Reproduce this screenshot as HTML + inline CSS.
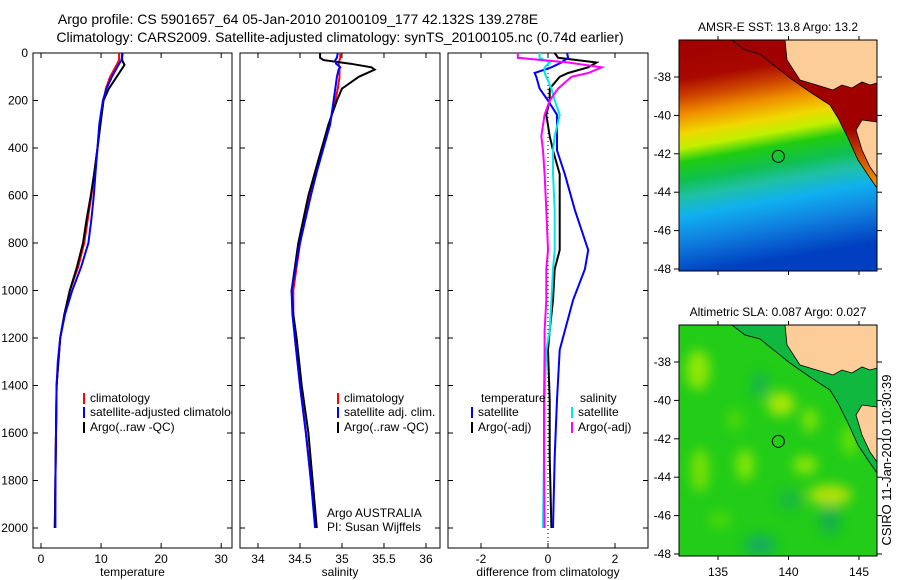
<!DOCTYPE html>
<html><head><meta charset="utf-8"><style>
html,body{margin:0;padding:0;background:#fff;width:900px;height:580px;overflow:hidden}
svg{display:block;font-family:"Liberation Sans",sans-serif}
</style></head><body>
<svg id="fig" width="900" height="580" viewBox="0 0 900 580">
<defs>
<clipPath id="c1"><rect x="33" y="53" width="199" height="495"/></clipPath>
<clipPath id="c2"><rect x="240" y="53" width="200" height="495"/></clipPath>
<clipPath id="c3"><rect x="448" y="53" width="200" height="495"/></clipPath>
<clipPath id="cm1"><rect x="679" y="40" width="198" height="231"/></clipPath>
<clipPath id="cm2"><rect x="679" y="325" width="198" height="231"/></clipPath>
<linearGradient id="sst" x1="0" y1="0" x2="0.15" y2="1">
<stop offset="0" stop-color="#a00000"/><stop offset="0.17" stop-color="#a80800"/>
<stop offset="0.25" stop-color="#d04800"/><stop offset="0.32" stop-color="#f09000"/>
<stop offset="0.40" stop-color="#f0d800"/><stop offset="0.46" stop-color="#c0f000"/>
<stop offset="0.52" stop-color="#20cc10"/><stop offset="0.60" stop-color="#10c050"/>
<stop offset="0.67" stop-color="#20c0a8"/><stop offset="0.75" stop-color="#10b0f0"/>
<stop offset="0.86" stop-color="#1080e0"/><stop offset="1" stop-color="#0040c0"/>
</linearGradient>
<linearGradient id="shelf" x1="0" y1="0" x2="0" y2="1">
<stop offset="0" stop-color="#a00000"/><stop offset="0.6" stop-color="#a00000"/>
<stop offset="0.8" stop-color="#d05000"/><stop offset="1" stop-color="#f0a000"/>
</linearGradient>
<filter id="blur"><feGaussianBlur stdDeviation="6"/></filter>
</defs>
<g font-size="14" text-anchor="middle">
<text x="298" y="24">Argo profile: CS 5901657_64 05-Jan-2010 20100109_177 42.132S 139.278E</text>
<text x="340" y="42">Climatology: CARS2009. Satellite-adjusted climatology: synTS_20100105.nc (0.74d earlier)</text>
</g>
<g id="panels"></g>
<g id="maps"></g>
<text transform="translate(891,460) rotate(-90)" font-size="13" text-anchor="middle">CSIRO 11-Jan-2010 10:30:39</text>
</svg>
<script>
// depth levels (dbar)
const depthT = [0,30,50,100,150,200,300,400,500,600,700,800,900,1000,1100,1200,1300,1400,1600,1800,2000];
const tempClim = [13,13,12.6,11.5,10.8,10.4,9.8,9.4,8.9,8.4,7.8,7.2,6.2,4.8,3.9,3.2,2.9,2.6,2.5,2.4,2.3];
const tempSat  = [13.6,13.4,12.9,11.8,10.9,10.3,9.7,9.4,9.1,8.8,8.4,7.9,6.7,5.2,4,3.2,2.8,2.6,2.5,2.4,2.4];
const tempArgo = [13.5,13.5,13.9,12.6,11.3,10.4,9.9,9.4,8.9,8.3,7.6,7.0,6.0,4.8,3.9,3.2,2.9,2.6,2.5,2.4,2.3];
const depthS = [0,20,30,45,60,70,100,150,200,300,400,500,600,800,1000,1100,1200,1400,1600,1800,2000];
const salClim = [34.98,34.98,34.97,34.96,34.97,34.97,34.97,34.95,34.92,34.85,34.76,34.68,34.62,34.5,34.42,34.42,34.44,34.5,34.57,34.63,34.69];
const salSat  = [34.95,34.94,34.92,34.93,34.98,34.96,34.94,34.92,34.9,34.86,34.78,34.7,34.63,34.5,34.4,34.41,34.44,34.5,34.57,34.63,34.68];
const salArgo = [34.74,34.74,34.78,35.1,35.35,35.39,35.2,35.0,34.94,34.84,34.76,34.68,34.6,34.48,34.4,34.42,34.46,34.52,34.6,34.65,34.7];
const depthD = [0,20,40,60,84,100,150,200,260,350,410,510,660,830,910,1040,1170,1250,1460,1700,2000];
const dTempSat  = [0.57,0.6,0.4,0.1,-0.4,-0.35,-0.25,0,0.27,0.27,0.27,0.5,0.8,1.2,1.1,0.75,0.5,0.35,0.27,0.2,0.15];
const dTempArgo = [0.2,0.3,1.45,1.2,0.6,0.35,0.05,0.05,-0.05,0.05,0.15,0.35,0.35,0.35,0.2,0.15,0.05,0.0,0.05,0.05,0.1];
const dSalSat   = [-0.25,-0.25,0.05,-0.1,-0.1,-0.05,0.1,0.2,0.35,0.2,0.15,0.15,0.2,0.2,0.15,0.1,0.05,-0.05,-0.1,-0.12,-0.15];
const dSalArgo  = [-0.9,-0.9,0.6,1.6,1.2,0.7,0.3,0.05,-0.1,-0.2,-0.15,-0.1,-0.05,0,-0.05,-0.05,-0.1,-0.1,-0.12,-0.12,-0.1];
const depthTicks = [0,200,400,600,800,1000,1200,1400,1600,1800,2000];
const tempTicks = [0,10,20,30];
const salTicks = [34,34.5,35,35.5,36];
const diffTicks = [-2,0,2];
const latTicks = [-38,-40,-42,-44,-46,-48];
const lonTicks = [135,140,145];

const NS='http://www.w3.org/2000/svg';
function mk(tag,attrs,parent){const e=document.createElementNS(NS,tag);for(const k in attrs)e.setAttribute(k,attrs[k]);parent.appendChild(e);return e;}
const yD = d => 53 + d*0.2375;
const P = document.getElementById('panels');

const panels = [
 {x0:33,x1:232,lo:-1.33,hi:31.8,ticks:tempTicks,lab:'temperature',clip:'c1',yl:true,
  series:[[depthT,tempClim,'#ff0000'],[depthT,tempArgo,'#000'],[depthT,tempSat,'#0000ff']],dn:'temperature'},
 {x0:240,x1:440,lo:33.786,hi:36.167,ticks:salTicks,lab:'salinity',clip:'c2',
  series:[[depthS,salClim,'#ff0000'],[depthS,salArgo,'#000'],[depthS,salSat,'#0000ff']],dn:'salinity'},
 {x0:448,x1:648,lo:-2.985,hi:2.985,ticks:diffTicks,lab:'difference from climatology',clip:'c3',
  series:[[depthD,dTempArgo,'#000'],[depthD,dTempSat,'#0000ff'],[depthD,dSalSat,'#00e8e8'],[depthD,dSalArgo,'#ff00ff']],dn:'difference'}
];
panels.forEach((p,pi)=>{
  const g=mk('g',{},P);
  
  
  const xs = v => p.x0 + (v-p.lo)/(p.hi-p.lo)*(p.x1-p.x0);
  mk('rect',{x:p.x0,y:53,width:p.x1-p.x0,height:495,fill:'#fff',stroke:'#000','stroke-width':1},g);
  p.ticks.forEach(t=>{const x=xs(t);
    mk('line',{x1:x,x2:x,y1:548,y2:543,stroke:'#000'},g);
    mk('line',{x1:x,x2:x,y1:53,y2:58,stroke:'#000'},g);
    const tx=mk('text',{x:x,y:563,'font-size':12,'text-anchor':'middle'},g);tx.textContent=t;});
  depthTicks.forEach(d=>{const y=yD(d);
    mk('line',{x1:p.x0,x2:p.x0+5,y1:y,y2:y,stroke:'#000'},g);
    mk('line',{x1:p.x1,x2:p.x1-5,y1:y,y2:y,stroke:'#000'},g);
    if(p.yl){const tx=mk('text',{x:28,y:y+4,'font-size':12,'text-anchor':'end'},g);tx.textContent=d;}});
  const xl=mk('text',{x:(p.x0+p.x1)/2,y:576,'font-size':12,'text-anchor':'middle'},g);xl.textContent=p.lab;
  
  
  const cg=mk('g',{'clip-path':'url(#'+p.clip+')'},g);
  if(pi===2){mk('line',{x1:xs(0),x2:xs(0),y1:53,y2:548,stroke:'#000','stroke-dasharray':'1,3'},cg);}
  p.series.forEach(s=>{
    const pts=s[0].map((d,i)=>xs(s[1][i]).toFixed(1)+','+yD(d).toFixed(1)).join(' ');
    const l=mk('polyline',{points:pts,fill:'none',stroke:s[2],'stroke-width':2},cg);
    
    
  });
  function leg(x,y,col,txt,clip){const lg=mk('g',clip?{'clip-path':'url(#'+clip+')'}:{},g);
    
    
    mk('line',{x1:x,x2:x,y1:y-9,y2:y+2,stroke:col,'stroke-width':2},lg);
    const t=mk('text',{x:x+6,y:y,'font-size':12},lg);t.textContent=txt;}
  if(pi===0){leg(84,402,'#ff0000','climatology','c1');leg(84,416,'#0000ff','satellite-adjusted climatology','c1');leg(84,431,'#000','Argo(..raw -QC)','c1');}
  if(pi===1){leg(338,402,'#ff0000','climatology');leg(338,416,'#0000ff','satellite adj. clim.');leg(338,431,'#000','Argo(..raw -QC)');
    const a=mk('text',{x:327,y:517,'font-size':12},g);a.textContent='Argo AUSTRALIA';
    const b=mk('text',{x:327,y:531,'font-size':12},g);b.textContent='PI: Susan Wijffels';}
  if(pi===2){const t1=mk('text',{x:481,y:402,'font-size':12},g);t1.textContent='temperature';
    const t2=mk('text',{x:580,y:402,'font-size':12},g);t2.textContent='salinity';
    leg(472,416,'#0000ff','satellite');leg(472,431,'#000','Argo(-adj)');
    leg(572,416,'#00e8e8','satellite');leg(572,431,'#ff00ff','Argo(-adj)');}
});

// maps
const M=document.getElementById('maps');
const maps=[{top:40,clip:'cm1',title:'AMSR-E SST: 13.8 Argo: 13.2',dn:'sst-map'},{top:325,clip:'cm2',title:'Altimetric SLA: 0.087 Argo: 0.027',dn:'sla-map'}];
const lonX = v => 718 + (v-135)*14.1;
maps.forEach((m,mi)=>{
  const g=mk('g',{},M);
  
  
  const latY = v => m.top + 37 + (-38-v)*19.2;
  const cg=mk('g',{'clip-path':'url(#'+m.clip+')'},g);
  const o=m.top-40;
  const shelf=`M732 ${40+o} L745 ${50+o} L760 ${54+o} L790 ${78+o} L810 ${92+o} L830 ${105+o} L838 ${118+o} L848 ${138+o} L858 ${160+o} L870 ${178+o} L877 ${188+o} L877 ${40+o} Z`;
  if(mi===0){
    mk('rect',{x:679,y:m.top,width:198,height:231,fill:'url(#sst)'},cg);
    mk('path',{d:shelf,fill:'url(#shelf)'},cg);
  } else {
    mk('rect',{x:679,y:m.top,width:198,height:231,fill:'#22cc18'},cg);
    const bl=mk('g',{filter:'url(#blur)',opacity:0.75},cg);
    [[698,370,12,20,'#b8f000'],[781,404,14,12,'#d8f000'],[830,495,22,10,'#e8e800'],[805,465,12,9,'#b8f000'],[745,465,9,16,'#a8f000'],[760,385,7,12,'#10a870'],[830,520,10,15,'#10a860'],[760,545,16,9,'#10a080'],[700,470,9,22,'#98e800'],[810,420,7,12,'#b0f000'],[735,420,8,10,'#60e000'],[790,500,12,10,'#18b050'],[850,440,8,16,'#80e800'],[720,520,10,8,'#60e000']]
      .forEach(b=>mk('ellipse',{cx:b[0],cy:b[1],rx:b[2],ry:b[3],fill:b[4]},bl));
    mk('path',{d:shelf,fill:'#10b840'},cg);
  }
  mk('path',{d:`M785 ${40+o} L787 ${60+o} L800 ${80+o} L820 ${86+o} L833 ${90+o} L842 ${85+o} L852 ${88+o} L862 ${82+o} L870 ${85+o} L877 ${83+o} L877 ${40+o} Z`,fill:'#fccc99',stroke:'#000','stroke-width':0.8},cg);
  mk('path',{d:`M877 ${122+o} L862 ${120+o} L856 ${130+o} L862 ${150+o} L870 ${167+o} L877 ${177+o} Z`,fill:'#fccc99',stroke:'#000','stroke-width':0.8},cg);
  mk('polyline',{points:`732,${40+o} 745,${50+o} 760,${54+o} 790,${78+o} 810,${92+o} 830,${105+o} 838,${118+o} 848,${138+o} 858,${160+o} 870,${178+o} 877,${188+o}`,fill:'none',stroke:'#000','stroke-width':0.8},cg);
  const pt=mk('circle',{cx:lonX(139.278),cy:latY(-42.132),r:6,fill:'none',stroke:'#000','stroke-width':1},g);
  
  
  mk('rect',{x:679,y:m.top,width:198,height:231,fill:'none',stroke:'#000'},g);
  latTicks.forEach(v=>{const y=latY(v);
    mk('line',{x1:679,x2:674,y1:y,y2:y,stroke:'#000'},g);mk('line',{x1:877,x2:882,y1:y,y2:y,stroke:'#000'},g);
    const t=mk('text',{x:671,y:y+4,'font-size':12,'text-anchor':'end'},g);t.textContent=v;});
  lonTicks.forEach(v=>{const x=lonX(v);
    mk('line',{x1:x,x2:x,y1:m.top,y2:m.top-4,stroke:'#000'},g);mk('line',{x1:x,x2:x,y1:m.top+231,y2:m.top+235,stroke:'#000'},g);
    if(mi===1){const t=mk('text',{x:x,y:576,'font-size':12,'text-anchor':'middle'},g);t.textContent=v;}});
  const tt=mk('text',{x:778,y:m.top-9,'font-size':12,'text-anchor':'middle'},g);tt.textContent=m.title;
  
  
});
</script>
</body></html>
